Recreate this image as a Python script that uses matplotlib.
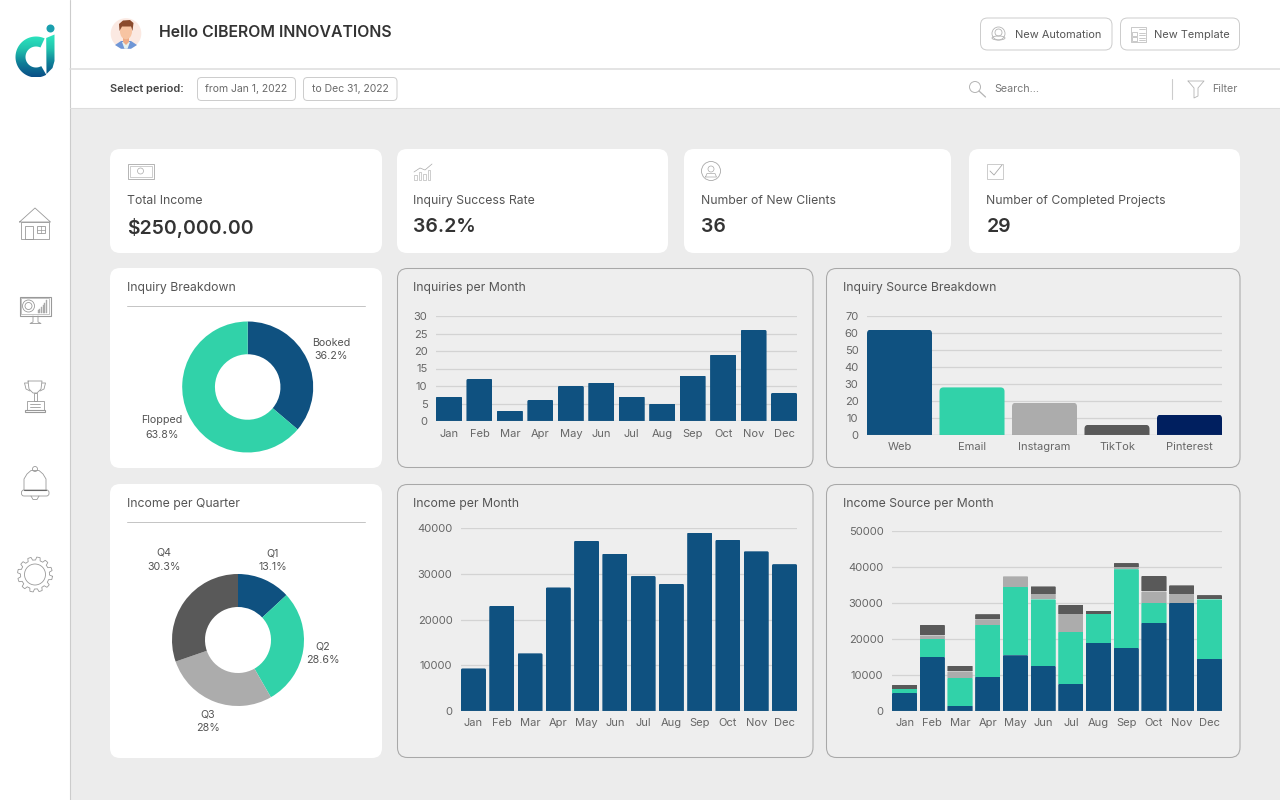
import numpy as np
import matplotlib
matplotlib.use("Agg")
import matplotlib.pyplot as plt
from matplotlib.patches import FancyBboxPatch, Rectangle, Circle, Polygon, Ellipse
from matplotlib.colors import LinearSegmentedColormap

plt.rcParams['font.family'] = ['Inter', 'DejaVu Sans']

months = ['Jan', 'Feb', 'Mar', 'Apr', 'May', 'Jun', 'Jul', 'Aug', 'Sep', 'Oct', 'Nov', 'Dec']
inquiries = [7, 12, 3, 6, 10, 11, 7, 5, 13, 19, 26, 8]
source_names = ['Web', 'Email', 'Instagram', 'TikTok', 'Pinterest']
source_values = [62, 28, 19, 6, 12]
income_month = [9300, 23000, 12600, 27000, 37200, 34400, 29500, 27800, 39000, 37400, 34900, 32100]
stack_a = [5000, 15000, 1500, 9500, 15500, 12500, 7500, 19000, 17500, 24500, 30000, 14500]
stack_b = [1200, 5000, 7700, 14500, 19000, 18500, 14500, 8000, 21900, 5500, 0, 16500]
stack_c = [0, 1000, 1800, 1500, 2900, 1600, 5000, 0, 600, 3200, 2500, 0]
stack_d = [1100, 2900, 1600, 1400, 0, 2000, 2500, 900, 1100, 4300, 2400, 1200]
breakdown_labels = ['Booked', 'Flopped']
breakdown_values = [36.2, 63.8]
quarter_labels = ['Q1', 'Q2', 'Q3', 'Q4']
quarter_values = [13.1, 28.6, 28.0, 30.3]
quarter_text = ['13.1%', '28.6%', '28%', '30.3%']
kpi_titles = ['Total Income', 'Inquiry Success Rate', 'Number of New Clients', 'Number of Completed Projects']
kpi_values = ['$250,000.00', '36.2%', '36', '29']

NAVY = '#0f5180'; TEAL = '#31d2a9'; GREY = '#acacac'; DARK = '#595959'; DEEP = '#001f5f'
BG = '#ececec'; PANEL = '#eeeeee'; TXT = '#333333'; MID = '#555555'; TICK = '#666666'
GRID = '#d3d3d3'; LINE = '#999999'

W, H = 1280, 800
fig = plt.figure(figsize=(12.8, 8), dpi=100, facecolor=BG)
ov = fig.add_axes([0, 0, 1, 1], zorder=0)
ov.set_xlim(0, W); ov.set_ylim(H, 0); ov.axis('off')


def box(x0, y0, x1, y1, fc='white', ec='none', lw=0, r=10, z=1):
    ov.add_patch(FancyBboxPatch((x0, y0), x1 - x0, y1 - y0,
                                boxstyle=f'round,pad=0,rounding_size={r}',
                                fc=fc, ec=ec, lw=lw, zorder=z))


def txt(x, y, s, size=8.8, color=MID, weight='normal', ha='left', va='center', z=5):
    ov.text(x, y + 1, s, fontsize=size, color=color, fontweight=weight, ha=ha, va=va, zorder=z)


def pl(xs, ys, color=LINE, lw=0.6, z=4):
    ov.plot(xs, ys, color=color, lw=lw, zorder=z, solid_capstyle='round', solid_joinstyle='round')


def rect(x, y, w, h, ec=LINE, lw=0.6, fc='none', z=4):
    ov.add_patch(Rectangle((x, y), w, h, fc=fc, ec=ec, lw=lw, zorder=z))


def circ(x, y, r, ec=LINE, lw=0.6, fc='none', z=4):
    ov.add_patch(Circle((x, y), r, fc=fc, ec=ec, lw=lw, zorder=z))


# ---------- chrome ----------
ov.add_patch(Rectangle((0, 0), 70, H, fc='white', ec='none', zorder=1))
ov.add_patch(Rectangle((70, 0), W - 70, 109, fc='white', ec='none', zorder=1))
pl([70.0, 70.0], [0, H], color='#cccccc', lw=0.8)
pl([70, W], [69.2, 69.2], color='#dddddd', lw=1.1)
pl([70, W], [108.4, 108.4], color='#dddddd', lw=0.8)

# logo: vertical gradient clipped to the letter shapes
grad = LinearSegmentedColormap.from_list('g', ['#2de8c0', '#22c4ae', '#0f7f98', '#0a4f87'])
th = np.radians(np.linspace(65, 300, 60))
cx, cy = 36, 57
outer = np.c_[cx + 20.5 * np.cos(th), cy - 20.5 * np.sin(th)]
inner = np.c_[cx + 10.5 * np.cos(th), cy - 10.5 * np.sin(th)]
shapes = [np.r_[outer, inner[::-1]],
          [(46.2, 38), (54.5, 34.5), (54.5, 61), (52.5, 68), (46.5, 74)]]
for sh in shapes:
    im = ov.imshow(np.linspace(0, 1, 64).reshape(-1, 1), cmap=grad, extent=(14, 56, 77, 34),
                   aspect='auto', zorder=3)
    im.set_clip_path(Polygon(sh, transform=ov.transData))
ov.set_xlim(0, W); ov.set_ylim(H, 0)
circ(50.5, 28.5, 4, ec='none', fc='#1a9fae')

# avatar
circ(126, 33.5, 15.3, ec='none', fc='#fbe9e2', z=2)
ov.add_patch(Polygon([(115, 45), (121, 41), (131, 41), (137, 45), (131, 48.8), (121, 48.8)],
                     fc='#6f96d6', ec='none', zorder=3))
ov.add_patch(Polygon([(122, 42), (130, 42), (127.5, 48.8), (124.5, 48.8)], fc='#e6f1ee', ec='none', zorder=4))
ov.add_patch(Polygon([(123, 36), (129, 36), (129, 42), (126, 45), (123, 42)], fc='#eeab85', ec='none', zorder=5))
ov.add_patch(Ellipse((126, 31.5), 12, 15.5, fc='#f7c4a2', ec='none', zorder=5))
ov.add_patch(Polygon([(119.5, 31), (119, 24), (123, 20.5), (130, 20), (133.5, 23), (132.5, 31),
                      (131, 26.5), (122, 26.5)], fc='#8a4a2c', ec='none', zorder=6))

txt(159, 31.5, 'Hello CIBEROM INNOVATIONS', size=11.4, color=TXT, weight='semibold')
txt(110, 88.5, 'Select period:', size=7.9, color='#444444', weight='semibold')

for x0, x1, s in [(197.5, 295.5, 'from Jan 1, 2022'), (303.5, 397, 'to Dec 31, 2022')]:
    box(x0, 77.5, x1, 100.5, fc='white', ec='#cccccc', lw=0.7, r=4, z=2)
    txt((x0 + x1) / 2, 88.5, s, size=7.5, color='#6a6a6a', ha='center')
for x0, x1, s, tx in [(980.5, 1112, 'New Automation', 1015), (1120.5, 1239.5, 'New Template', 1154.5)]:
    box(x0, 18, x1, 50, fc='white', ec='#cccccc', lw=0.7, r=7, z=2)
    txt(tx, 33.5, s, size=7.9, color='#555555')
# button icons
C = '#b4b4b4'
circ(998.5, 33.5, 6.5, ec=C, lw=0.6); circ(998.5, 32.5, 3.5, ec=C, lw=0.6)
ov.add_patch(Ellipse((998.5, 38), 13, 4, fc='none', ec=C, lw=0.6, zorder=4))
rect(1131, 26.5, 14.5, 15, ec=C, lw=0.5); rect(1132, 32, 5, 3.5, ec=C, lw=0.5)
rect(1132, 37, 5, 3.5, ec=C, lw=0.5)
for yy in (29, 33, 35, 38, 40):
    pl([1139, 1145], [yy, yy], color=C, lw=0.5)

# search + filter
circ(975, 87, 5.5, ec='#b4b4b4', lw=0.7); pl([979, 985.5], [91, 97], color='#b4b4b4', lw=0.9)
txt(994, 88.5, 'Search...', size=7.7, color='#777777')
pl([1171.5, 1171.5], [79, 99], color='#cccccc', lw=0.8)
pl([1188, 1204, 1198, 1198, 1194, 1194, 1188], [81, 81, 88, 96, 98, 88, 81], color='#b4b4b4', lw=0.6)
txt(1212, 88.5, 'Filter', size=7.7, color='#777777')

# sidebar icons
G = '#999999'
pl([19.5, 35, 50.5, 19.5], [222, 208, 222, 222], color=G)
rect(21, 222, 28, 17, ec=G); rect(25, 226, 8, 13, ec=G); rect(37, 226, 7.5, 7, ec=G)
pl([40.7, 40.7], [226, 233], color=G, lw=0.5); pl([37, 44.5], [229.5, 229.5], color=G, lw=0.5)
# monitor
rect(19.5, 296.5, 31, 19, ec=G, lw=0.8); rect(21, 298, 28, 16, ec=G, lw=0.4)
circ(28.5, 306, 6, ec=G); circ(28.5, 306, 3.5, ec=G)
for i, h_ in enumerate([3, 4, 6, 8, 10, 13]):
    rect(37.5 + i * 1.7, 313 - h_, 1.0, h_, ec='#aaaaaa', lw=0.3, fc='#aaaaaa')
pl([33, 33, 30, 41, 38, 38], [316, 322, 323.5, 323.5, 322, 316], color=G)
# trophy
pl([28, 29, 33, 37, 41, 42, 28], [381, 389, 393, 393, 389, 381, 381], color=G)
pl([28, 24.5, 26, 30], [383, 383, 389, 391], color=G); pl([42, 45.5, 44, 40], [383, 383, 389, 391], color=G)
rect(33.5, 393, 3, 8, ec=G); rect(26.5, 400.5, 17, 9.5, ec=G); rect(25, 410, 20, 1.5, ec=G, lw=0.8)
pl([30, 40], [404, 404], color=G); pl([30, 40], [407, 407], color=G)
# bell
pl([24, 24, 27, 31, 39, 43, 46, 46], [490, 479, 474, 470.5, 470.5, 474, 479, 490], color=G)
box(21.5, 490, 49, 496, fc='white', ec=G, lw=0.6, r=2.5, z=4)
pl([24, 46], [490, 490], color='#666666', lw=0.8)
circ(35, 469, 2.5, ec=G); pl([31, 33, 37, 39], [496, 499.5, 499.5, 496], color=G)
# gear
ang = np.radians(np.linspace(0, 360, 97))
rad = np.array([17.5 if (i % 8) < 4 else 14.5 for i in range(97)])
pl(35 + rad * np.cos(ang + 0.1), 574.5 + rad * np.sin(ang + 0.1), color=G)
circ(35, 574.5, 10.5, ec=G)

# ---------- cards ----------
for x0, x1 in [(110, 382), (397, 668), (684, 951), (969, 1240)]:
    box(x0, 149, x1, 253)
for i, x in enumerate([127, 413, 701, 986.5]):
    txt(x, 200, kpi_titles[i], size=8.8, color=MID)
    txt(x, 226.5, kpi_values[i], size=14.0, color=TXT, weight='semibold')
# card icons
I = '#a8a8a8'
rect(127.5, 163.5, 26, 15, ec=I, lw=0.6); rect(129.5, 165.5, 22, 11, ec=I, lw=0.4); circ(140.5, 171, 3, ec=I, lw=0.5)
for i, h_ in enumerate([5, 8, 6, 10]):
    rect(414 + i * 4.5, 180 - h_, 2.6, h_, ec=I, lw=0.4)
pl([414, 420, 425, 432], [172, 168, 170, 164], color=I, lw=0.5)
circ(711, 171, 9.5, ec=I); circ(711, 169, 3, ec=I, lw=0.5)
pl([705.5, 707, 715, 716.5, 705.5], [177, 173.5, 173.5, 177, 177], color=I, lw=0.5)
rect(987, 163.5, 15.5, 15.5, ec='#c4c4c4'); pl([990, 994, 1002], [171, 175, 165], color=I)

box(110, 268, 382, 468)
box(110, 484, 382, 758)
for x0, y0, x1, y1 in [(397.5, 268.5, 813, 467.5), (826.5, 268.5, 1240, 467.5),
                       (397.5, 484.5, 813, 757.5), (826.5, 484.5, 1240, 757.5)]:
    box(x0, y0, x1, y1, fc=PANEL, ec='#a8a8a8', lw=0.75, r=10)
txt(127, 287, 'Inquiry Breakdown')
txt(127, 503, 'Income per Quarter')
txt(413, 287, 'Inquiries per Month')
txt(843, 287, 'Inquiry Source Breakdown')
txt(413, 503, 'Income per Month')
txt(843, 503, 'Income Source per Month')
pl([127, 365], [306, 306], color='#c4c4c4', lw=0.7)
pl([127, 365], [522, 522], color='#c4c4c4', lw=0.7)


# ---------- charts ----------
def chart_axes(x0, x1, ytop, ybot, ymax, ticks, xpad=5.0):
    ax = fig.add_axes([x0 / W, 1 - ybot / H, (x1 - x0) / W, (ybot - ytop) / H], zorder=2)
    ax.patch.set_alpha(0)
    ax.set_ylim(0, ymax)
    ax.set_yticks(ticks)
    ax.grid(axis='y', color=GRID, lw=0.9)
    ax.set_axisbelow(True)
    for s in ax.spines.values():
        s.set_visible(False)
    ax.tick_params(length=0, labelsize=8.0, labelcolor=TICK)
    ax.tick_params(axis='y', pad=6.2)
    ax.tick_params(axis='x', pad=xpad)
    return ax


def round_tops(ax, bars, radius_px):
    """Clip each bar so that its upper corners are rounded by radius_px."""
    t = ax.transData
    sx = abs(t.transform((1, 0))[0] - t.transform((0, 0))[0])
    sy = abs(t.transform((0, 1))[1] - t.transform((0, 0))[1])
    for b in bars:
        if b.get_height() <= 0:
            continue
        x, y, w_, h_ = b.get_x(), b.get_y(), b.get_width(), b.get_height()
        r = radius_px / sx
        p = FancyBboxPatch((x, y - h_), w_, 2 * h_, boxstyle=f'round,pad=0,rounding_size={r}',
                           mutation_aspect=sx / sy, transform=t)
        b.set_clip_path(p)


ax1 = chart_axes(436, 797, 316, 421, 30, range(0, 31, 5), xpad=5.6)
W1 = 0.854
b1 = ax1.bar(months, inquiries, width=W1, color=NAVY)
ax1.set_xlim(-W1 / 2, 11 + W1 / 2)
ax1.axhline(0, color='#b4b4b4', lw=0.8, zorder=1)
round_tops(ax1, b1, 1.5)

ax2 = chart_axes(867, 1222, 316, 435, 70, range(0, 71, 10))
W2 = 0.897
b2 = ax2.bar(source_names, source_values, width=W2, color=[NAVY, TEAL, GREY, DARK, DEEP])
ax2.set_xlim(-W2 / 2, 4 + W2 / 2)
ax2.axhline(0, color='#a0a0a0', lw=0.8, zorder=1)
round_tops(ax2, b2, 4)

ax3 = chart_axes(461, 797, 528, 711, 40000, range(0, 40001, 10000))
W3 = 0.884
b3 = ax3.bar(months, income_month, width=W3, color=NAVY)
ax3.set_xlim(-W3 / 2, 11 + W3 / 2)
ax3.axhline(0, color='#b4b4b4', lw=0.8, zorder=1)
round_tops(ax3, b3, 1.5)

ax4 = chart_axes(892, 1222, 531, 711, 50000, range(0, 50001, 10000))
a, b, c, d = map(np.array, (stack_a, stack_b, stack_c, stack_d))
W4 = 0.91
parts = [ax4.bar(months, a, width=W4, color=NAVY),
         ax4.bar(months, b, bottom=a, width=W4, color=TEAL),
         ax4.bar(months, c, bottom=a + b, width=W4, color=GREY),
         ax4.bar(months, d, bottom=a + b + c, width=W4, color=DARK)]
ax4.set_xlim(-W4 / 2, 11 + W4 / 2)
ax4.axhline(0, color='#b4b4b4', lw=0.8, zorder=1)
for p_ in parts:
    round_tops(ax4, p_, 1.0)


def donut(cx, cy, R, vals, cols, hole):
    ax = fig.add_axes([(cx - R) / W, 1 - (cy + R) / H, 2 * R / W, 2 * R / H], zorder=2)
    ax.pie(vals, colors=cols, startangle=90, counterclock=False, radius=1,
           wedgeprops=dict(width=1 - hole, edgecolor='none'))
    ax.set_xlim(-1, 1); ax.set_ylim(-1, 1)
    ax.axis('off')


donut(247.7, 387, 65.5, breakdown_values, [NAVY, TEAL], 0.5)
donut(238, 640, 66, quarter_values, [NAVY, TEAL, GREY, DARK], 0.5)

txt(331, 342, breakdown_labels[0], size=7.7, ha='center')
txt(331, 355, '36.2%', size=7.7, ha='center')
txt(162, 419, breakdown_labels[1], size=7.7, ha='center')
txt(162, 433.5, '63.8%', size=7.7, ha='center')
for (x_, y_), lab, pct in zip([(273, 552.5), (323, 645), (208, 713), (164, 551.5)], quarter_labels, quarter_text):
    txt(x_, y_, lab, size=7.7, ha='center')
    txt(x_, y_ + 14, pct, size=7.7, ha='center')

fig.savefig('out.png', dpi=100, facecolor=BG)
